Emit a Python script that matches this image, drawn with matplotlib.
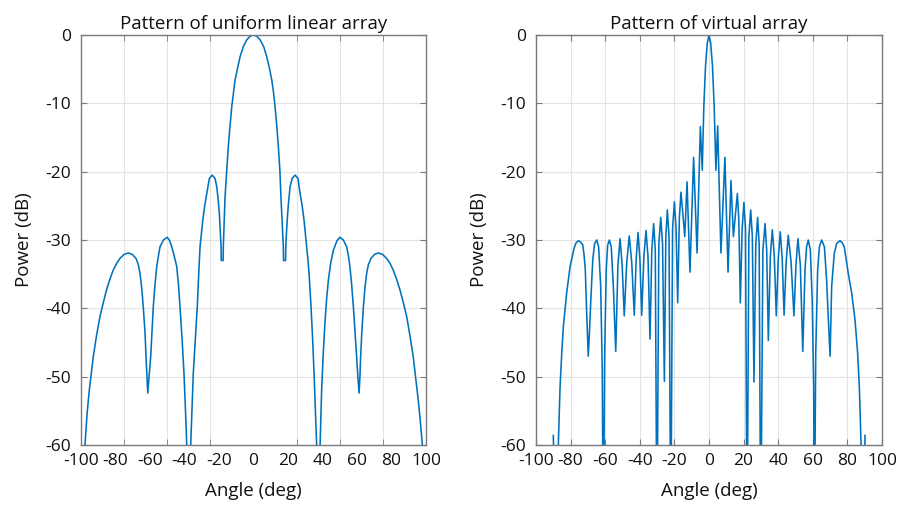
import matplotlib
matplotlib.use("Agg")
import matplotlib.pyplot as plt

plt.rcParams['font.family'] = ['Open Sans', 'DejaVu Sans']
plt.rcParams['axes.unicode_minus'] = False

# ---------------- data ----------------
left_title = "Pattern of uniform linear array"
right_title = "Pattern of virtual array"
x_label = "Angle (deg)"
y_label = "Power (dB)"

x_tick_values = [-100, -80, -60, -40, -20, 0, 20, 40, 60, 80, 100]
left_grid_values = [-75, -50, -25, 0, 25, 50, 75]
y_tick_values = [0, -10, -20, -30, -40, -50, -60]

left_angle = [-97.7, -96.5, -95.2, -92.9, -91.0, -89.0, -87.0, -85.2, -83.2, -81.3,
              -79.3, -77.4, -75.0, -72.6, -70.3, -68.1, -66.8, -65.8, -64.8, -63.9,
              -62.9, -62.3, -61.3, -60.4, -59.6, -58.1, -57.1, -56.1, -55.1, -54.2,
              -52.2, -50.0, -48.6, -47.4, -46.0, -44.5, -43.5, -42.6, -41.4, -40.3,
              -39.5, -38.7, -37.6, -36.4, -35.6, -34.9, -33.7, -32.6, -31.8, -31.0,
              -29.4, -28.3, -27.1, -25.6, -23.9, -22.3, -21.3, -20.5, -19.8, -19.3,
              -18.8, -18.7, -17.6, -17.5, -16.5, -15.5, -14.6, -13.6, -12.6, -11.6,
              -10.7, -9.2, -7.8, -5.9, -3.9, -2.0, 0.0,
              2.0, 3.8, 5.9, 7.7, 9.2, 10.6, 11.6, 12.5, 13.5, 14.4,
              15.3, 15.9, 17.3, 17.4, 18.6, 18.7, 19.2, 19.8, 20.5, 21.2,
              22.4, 24.1, 25.8, 27.0, 28.2, 29.3, 30.8, 31.6, 32.2, 33.3,
              34.3, 35.1, 35.8, 36.6, 37.6, 38.6, 39.5, 40.4, 41.4, 42.4,
              43.4, 44.8, 46.3, 48.4, 50.1, 52.1, 54.0, 55.0, 55.9, 56.9,
              57.9, 59.0, 59.8, 60.5, 61.2, 61.7, 62.1, 62.8, 63.7, 64.6,
              65.6, 66.6, 68.1, 70.2, 72.4, 74.8, 77.2, 79.1, 81.0, 82.9,
              84.9, 86.8, 88.8, 90.7, 92.6, 94.2, 95.5, 96.7, 97.9]
left_power = [-60.0, -55.5, -52.0, -47.1, -44.0, -41.2, -39.1, -37.3, -35.7, -34.4,
              -33.4, -32.7, -32.1, -31.9, -32.1, -32.7, -33.6, -34.9, -37.0, -39.8,
              -43.5, -47.1, -52.4, -49.5, -47.1, -39.8, -36.5, -33.9, -32.3, -31.0,
              -30.0, -29.6, -30.1, -31.0, -32.3, -33.9, -36.5, -39.8, -44.5, -49.5,
              -54.5, -60.0, -75.0, -60.0, -54.5, -49.5, -44.5, -39.8, -35.2, -31.0,
              -27.1, -25.0, -23.2, -21.0, -20.5, -21.0, -22.2, -24.0, -26.1, -28.5,
              -31.0, -33.0, -33.0, -31.0, -23.7, -19.8, -16.3, -13.3, -10.5, -8.4,
              -6.6, -4.8, -3.2, -1.7, -0.7, -0.2, 0.0,
              -0.2, -0.7, -1.7, -3.2, -4.8, -6.6, -8.4, -10.5, -13.3, -16.3,
              -19.8, -23.7, -31.0, -33.0, -33.0, -31.0, -28.5, -26.1, -24.0, -22.2,
              -21.0, -20.5, -21.0, -23.2, -25.0, -27.1, -31.0, -33.0, -34.9, -39.5,
              -44.6, -49.5, -54.4, -60.0, -75.0, -60.0, -52.0, -46.8, -42.2, -38.6,
              -35.9, -33.3, -31.5, -30.1, -29.6, -30.0, -31.0, -32.3, -33.9, -36.5,
              -39.8, -44.0, -47.1, -50.0, -52.4, -50.0, -47.1, -43.5, -39.8, -37.0,
              -34.9, -33.6, -32.7, -32.1, -31.9, -32.1, -32.7, -33.4, -34.4, -35.7,
              -37.3, -39.1, -41.2, -44.0, -47.1, -50.5, -53.4, -56.5, -60.0]

right_angle = [-90.0, -88.6, -87.1, -86.1, -85.1, -84.2, -82.3, -80.3, -78.0, -76.8,
               -75.5, -74.2, -73.0, -72.2, -71.5, -70.7, -69.8, -69.1, -68.4, -67.2,
               -66.1, -64.9, -63.8, -62.6, -61.7, -61.1, -60.3, -59.4, -58.6, -57.6,
               -56.5, -55.3, -53.9, -52.65, -51.4, -50.2, -49.0, -47.55, -46.1, -44.65,
               -43.2, -42.1, -41.0, -39.95, -38.9, -37.65, -36.4, -35.25, -34.1, -33.05,
               -32.0, -31.05, -30.1, -29.0, -27.9, -26.85, -25.8, -24.95, -24.1, -23.1,
               -22.1, -21.05, -20.0, -19.05, -18.1, -17.15, -16.2, -14.0, -12.7, -11.0,
               -8.9, -6.9, -5.0, -3.9, -3.0, -2.0, -1.0, 0.0, 1.0, 2.0,
               3.0, 4.0, 5.0, 6.9, 9.2, 11.0, 12.7, 14.1, 16.4, 17.25,
               18.1, 19.15, 20.2, 21.1, 22.0, 23.05, 24.1, 25.05, 26.0, 27.05,
               28.1, 29.0, 29.9, 31.15, 32.4, 33.35, 34.3, 35.45, 36.6, 37.75,
               38.9, 40.05, 41.2, 42.3, 43.4, 44.6, 45.8, 47.45, 49.1, 50.25,
               51.4, 52.8, 54.2, 55.5, 56.4, 57.4, 58.6, 59.7, 60.5, 60.9,
               61.7, 62.8, 63.8, 65.1, 66.7, 68.0, 69.0, 70.0, 70.9, 72.4,
               73.8, 75.7, 77.0, 78.2, 80.5, 82.5, 84.4, 85.9, 86.9, 87.9,
               89.0, 90.2]
right_power = [-58.6, -75.0, -60.0, -51.5, -46.5, -42.7, -37.8, -33.9, -31.2, -30.4,
               -30.1, -30.3, -30.7, -32.2, -34.4, -40.7, -47.0, -43.5, -39.3, -32.9,
               -30.5, -30.0, -31.0, -36.8, -49.0, -75.0, -46.6, -34.4, -30.8, -30.0,
               -31.0, -36.8, -46.3, -33.7, -29.8, -33.7, -41.1, -33.3, -29.4, -33.3,
               -41.0, -32.8, -28.9, -32.8, -41.0, -32.5, -28.6, -32.5, -44.5, -31.5,
               -27.6, -31.5, -75.0, -30.6, -26.7, -30.6, -50.7, -29.5, -25.6, -29.5,
               -75.0, -28.3, -24.4, -28.3, -39.2, -26.9, -23.0, -29.5, -21.5, -34.7,
               -17.9, -31.9, -13.4, -19.8, -10.5, -4.5, -1.2, 0.0, -1.2, -4.5,
               -10.5, -19.8, -13.3, -31.9, -17.9, -34.7, -21.3, -29.5, -23.2, -27.1,
               -39.2, -28.4, -24.5, -28.4, -75.0, -29.5, -25.6, -29.5, -50.8, -30.6,
               -26.7, -30.6, -75.0, -31.5, -27.6, -31.5, -44.7, -32.4, -28.5, -32.4,
               -41.1, -32.7, -28.8, -32.7, -41.0, -33.2, -29.3, -33.2, -41.1, -33.7,
               -29.8, -33.7, -46.3, -34.4, -31.0, -30.0, -31.5, -39.3, -51.5, -75.0,
               -46.5, -34.4, -31.0, -30.0, -31.0, -35.9, -41.7, -47.0, -36.8, -32.0,
               -30.5, -30.1, -30.4, -31.0, -34.9, -37.8, -41.7, -46.5, -51.5, -60.0,
               -75.0, -58.6]

# ---------------- styling ----------------
W, H = 902, 505
fig = plt.figure(figsize=(W / 100, H / 100), dpi=100)
line_color = '#0072BD'
spine_color = '#7a7a7a'
grid_color = '#e3e3e3'
text_color = '#111111'


def px_rect(x0, y0, x1, y1):
    return [x0 / W, 1 - y1 / H, (x1 - x0) / W, (y1 - y0) / H]


def style(ax, title):
    ax.set_ylim(-60, 0)
    ax.set_xlim(-100, 100)
    ax.set_yticks(y_tick_values)
    ax.set_xticks(x_tick_values)
    for s in ax.spines.values():
        s.set_color(spine_color)
        s.set_linewidth(1.0)
    ax.tick_params(axis='both', which='both', direction='in', colors=spine_color,
                   labelcolor=text_color, labelsize=12.5, top=True, right=True)
    ax.tick_params(axis='y', which='major', length=4, pad=7)
    ax.tick_params(axis='x', which='major', length=4, pad=6)
    ax.set_title(title, fontsize=13.5, color=text_color, pad=4)
    ax.set_xlabel(x_label, fontsize=13.5, color=text_color, labelpad=9)
    ax.set_ylabel(y_label, fontsize=13.5, color=text_color, labelpad=9)
    ax.set_axisbelow(True)


ax1 = fig.add_axes(px_rect(81, 35, 426, 445))
ax1.plot(left_angle, left_power, color=line_color, lw=1.15)
style(ax1, left_title)
ax1.set_xticks(left_grid_values, minor=True)
ax1.tick_params(axis='x', which='major', length=0)
ax1.tick_params(axis='x', which='minor', length=4)
ax1.grid(True, which='minor', axis='x', color=grid_color, lw=0.8)
ax1.grid(True, which='major', axis='y', color=grid_color, lw=0.8)

ax2 = fig.add_axes(px_rect(536, 35, 882, 445))
ax2.plot(right_angle, right_power, color=line_color, lw=1.15)
style(ax2, right_title)
ax2.grid(True, which='major', color=grid_color, lw=0.8)

fig.savefig('out.png', dpi=100)
